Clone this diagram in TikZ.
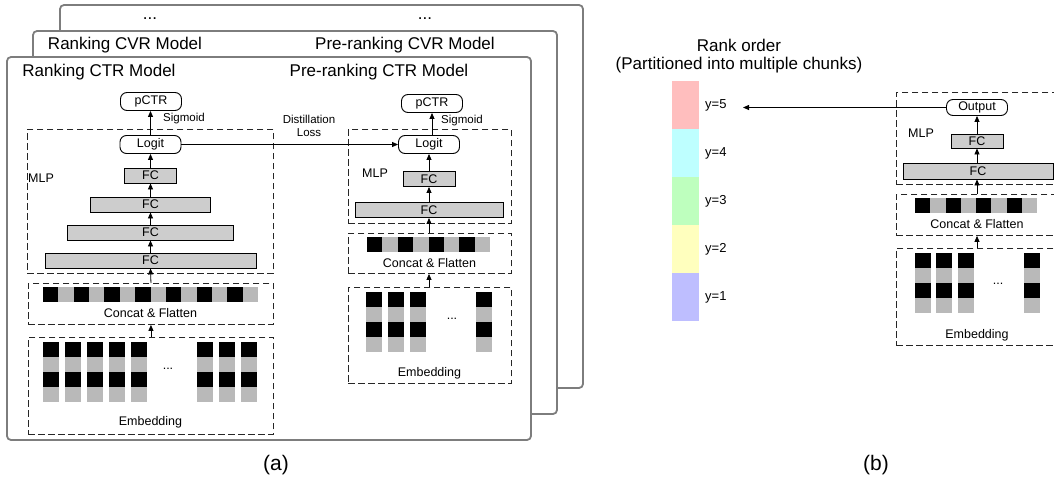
\documentclass[tikz,border=0pt]{standalone}
\usepackage{fontspec}
\setmainfont{Liberation Sans}
\usetikzlibrary{arrows.meta}
\definecolor{framegray}{RGB}{125,125,125}
\definecolor{fcgray}{RGB}{205,205,205}
\definecolor{cellgray}{RGB}{185,185,185}
\definecolor{cpink}{RGB}{255,190,190}
\definecolor{ccyan}{RGB}{190,255,255}
\definecolor{cgreen}{RGB}{190,255,190}
\definecolor{cyellow}{RGB}{255,255,190}
\definecolor{cblue}{RGB}{190,190,255}
\newcommand{\fsz}[1]{\fontsize{#1}{#1}\selectfont}
\tikzset{
  frame/.style={draw=framegray, line width=1.8pt, rounded corners=4pt, fill=white},
  dbox/.style={draw=black!85, line width=0.9pt, dash pattern=on 6.5pt off 3.5pt, anchor=north west, inner sep=0pt},
  pill/.style={draw, line width=0.9pt, rounded corners=6.5pt, inner sep=0pt, minimum width=61pt, minimum height=18pt, font=\fsz{12.5}},
  fcbox/.style={draw, fill=fcgray, line width=0.9pt, inner sep=0pt, minimum height=15pt, font=\fsz{12.5}},
  arr/.style={-{Triangle[length=6pt,width=5pt]}, line width=0.8pt},
  small/.style={font=\fsz{12.5}, inner sep=0pt},
  tiny/.style={font=\fsz{11.5}, inner sep=0pt},
  title/.style={font=\fsz{17}, inner sep=0pt},
}
\begin{document}
\begin{tikzpicture}[x=1pt,y=-1pt]
\useasboundingbox (0,0) rectangle (1054,482);
\clip (0,0) rectangle (1054,482);

% ---------------- stacked frames ----------------
\draw[frame] (60,5) rectangle (583,388);
\node[title] (dotsL) at (150,19) {...};
\node[title] (dotsR) at (425,19) {...};
\draw[frame] (33,31) rectangle (557,414);
\node[title] (tRankCVR) at (125,45) {Ranking CVR Model};
\node[title] (tPreCVR) at (405,45) {Pre-ranking CVR Model};
\draw[frame] (7,57) rectangle (531,440);
\node[title] (tRankCTR) at (99,72) {Ranking CTR Model};
\node[title] (tPreCTR) at (379,72) {Pre-ranking CTR Model};

% ---------------- ranking CTR model ----------------
\node[dbox, minimum width=246pt, minimum height=144pt] (mlpA) at (27,129) {};
\node[dbox, minimum width=245pt, minimum height=41pt] (catA) at (28,283) {};
\node[dbox, minimum width=245pt, minimum height=97pt] (embA) at (28,337) {};
\node[pill] (pctrA) at (151,101.5) {pCTR};
\node[pill] (logitA) at (150.5,144.5) {Logit};
\node[small, anchor=west] (mlpLA) at (28,178) {MLP};
\node[fcbox, minimum width=52pt] (fcA1) at (150.5,175.5) {FC};
\node[fcbox, minimum width=120pt] (fcA2) at (150.5,204.5) {FC};
\node[fcbox, minimum width=166pt] (fcA3) at (150.5,232.5) {FC};
\node[fcbox, minimum width=211pt] (fcA4) at (150.5,260.5) {FC};
\node[tiny, anchor=west] (sigA) at (163,119) {Sigmoid};
\foreach \i in {0,...,6} {
  \fill[black] ({43+30.72*\i},287) rectangle +(15.36,15);
  \fill[cellgray] ({58.36+30.72*\i},287) rectangle +(15.36,15);
}
\node[small] (catTA) at (150.5,313) {Concat \& Flatten};
\foreach \x in {43,65,87,109,131,197,219,241} {
  \fill[black] (\x,342) rectangle +(16,15);
  \fill[cellgray] (\x,357) rectangle +(16,15);
  \fill[black] (\x,372) rectangle +(16,15);
  \fill[cellgray] (\x,387) rectangle +(16,15);
}
\node[small] (edotsA) at (168,369) {...};
\node[small] (embTA) at (150.5,422) {Embedding};
\draw[arr] (embA.north) -- (catA.south);
\draw[arr] (catA.north) -- (fcA4.south);
\draw[arr] (fcA4) -- (fcA3);
\draw[arr] (fcA3) -- (fcA2);
\draw[arr] (fcA2) -- (fcA1);
\draw[arr] (fcA1) -- (logitA);
\draw[arr] (logitA.north) -- (logitA.north |- pctrA.south);

% ---------------- pre-ranking CTR model ----------------
\node[dbox, minimum width=163pt, minimum height=94pt] (mlpB) at (348,129) {};
\node[dbox, minimum width=163pt, minimum height=40pt] (catB) at (348,233) {};
\node[dbox, minimum width=163pt, minimum height=96pt] (embB) at (348,287) {};
\node[pill] (pctrB) at (432,103.5) {pCTR};
\node[pill] (logitB) at (429,144.5) {Logit};
\node[small, anchor=west] (mlpLB) at (362,173) {MLP};
\node[fcbox, minimum width=52pt] (fcB1) at (429,179) {FC};
\node[fcbox, minimum width=148pt] (fcB2) at (429,210) {FC};
\node[tiny, anchor=west] (sigB) at (441,121) {Sigmoid};
\foreach \i in {0,...,3} {
  \fill[black] ({367+30.8*\i},237) rectangle +(15.4,15);
  \fill[cellgray] ({382.4+30.8*\i},237) rectangle +(15.4,15);
}
\node[small] (catTB) at (429.5,263) {Concat \& Flatten};
\foreach \x in {366,388,410,476} {
  \fill[black] (\x,292) rectangle +(16,15);
  \fill[cellgray] (\x,307) rectangle +(16,15);
  \fill[black] (\x,322) rectangle +(16,15);
  \fill[cellgray] (\x,337) rectangle +(16,15);
}
\node[small] (edotsB) at (452,319) {...};
\node[small] (embTB) at (429.5,373) {Embedding};
\draw[arr] (fcB2.south |- embB.north) -- (fcB2.south |- catB.south);
\draw[arr] (fcB2.south |- catB.north) -- (fcB2.south);
\draw[arr] (fcB2) -- (fcB1);
\draw[arr] (fcB1) -- (logitB);
\draw[arr] (logitB.north -| pctrB) -- (pctrB.south);
\draw[arr] (logitA.east) -- (logitB.west);
\node[tiny, align=center] (distL) at (309,126) {Distillation\\[2pt]Loss};

\node[font=\fsz{21}, inner sep=0pt] (capA) at (276,465) {(a)};

% ---------------- panel (b) ----------------
\node[title] (rankT1) at (739,45) {Rank order};
\node[title] (rankT2) at (739,65) {(Partitioned into multiple chunks)};
\fill[cpink] (672,81) rectangle (699,129);
\fill[ccyan] (672,129) rectangle (699,177);
\fill[cgreen] (672,177) rectangle (699,225);
\fill[cyellow] (672,225) rectangle (699,273);
\fill[cblue] (672,273) rectangle (699,321);
\node[font=\fsz{13}, inner sep=0pt, anchor=west] (y5) at (705,105) {y=5};
\node[font=\fsz{13}, inner sep=0pt, anchor=west] (y4) at (705,153) {y=4};
\node[font=\fsz{13}, inner sep=0pt, anchor=west] (y3) at (705,201) {y=3};
\node[font=\fsz{13}, inner sep=0pt, anchor=west] (y2) at (705,249) {y=2};
\node[font=\fsz{13}, inner sep=0pt, anchor=west] (y1) at (705,297) {y=1};

\node[dbox, minimum width=170pt, minimum height=92pt] (mlpC) at (896,92) {};
\node[dbox, minimum width=170pt, minimum height=41pt] (catC) at (896,194) {};
\node[dbox, minimum width=170pt, minimum height=97pt] (embC) at (896,248) {};
\node[pill, minimum height=16pt] (outC) at (977,107.5) {Output};
\node[small, anchor=west] (mlpLC) at (908,133) {MLP};
\node[fcbox, minimum width=52pt, minimum height=14pt] (fcC1) at (977,141) {FC};
\node[fcbox, minimum width=150pt, minimum height=16pt] (fcC2) at (978,171) {FC};
\foreach \i in {0,...,3} {
  \fill[black] ({915+30.5*\i},198) rectangle +(15.25,15);
  \fill[cellgray] ({930.25+30.5*\i},198) rectangle +(15.25,15);
}
\node[small] (catTC) at (977,224) {Concat \& Flatten};
\foreach \x in {915,936,958,1024} {
  \fill[black] (\x,253) rectangle +(16,15);
  \fill[cellgray] (\x,268) rectangle +(16,15);
  \fill[black] (\x,283) rectangle +(16,15);
  \fill[cellgray] (\x,298) rectangle +(16,15);
}
\node[small] (edotsC) at (998,284) {...};
\node[small] (embTC) at (977,335) {Embedding};
\coordinate (y5tip) at (743,106);
\draw[arr] (fcC1.south |- embC.north) -- (fcC1.south |- catC.south);
\draw[arr] (fcC1.south |- catC.north) -- (fcC1.south |- fcC2.south);
\draw[arr] (fcC2.north -| fcC1) -- (fcC1.south);
\draw[arr] (fcC1.north) -- (outC.south);
\draw[arr] (outC.west) -- (y5tip |- outC.west);

\node[font=\fsz{21}, inner sep=0pt] (capB) at (876,465) {(b)};
\end{tikzpicture}
\end{document}
